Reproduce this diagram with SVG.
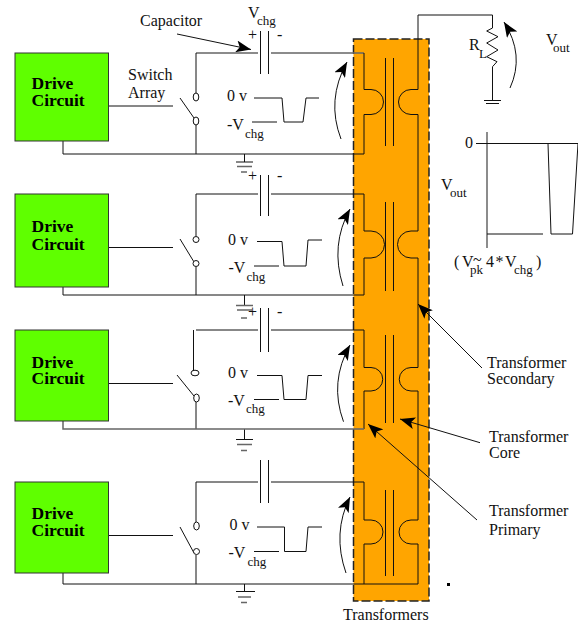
<svg xmlns="http://www.w3.org/2000/svg" width="578" height="623" viewBox="0 0 578 623">
<style>
text{font-family:"Liberation Serif","Times New Roman",serif;font-size:16px;fill:#111}
text.b{font-weight:bold;font-size:17.5px;fill:#000}
text.s,tspan.s{font-size:13px}
.l{fill:none;stroke:#111;stroke-width:1}
.g{fill:none;stroke:#666;stroke-width:1.5}
.box{fill:#5fff00;stroke:#333;stroke-width:1}
.c{fill:#fff;stroke:#111;stroke-width:1}
.a{fill:none;stroke:#111;stroke-width:1}
</style>
<defs>
<marker id="ah" markerUnits="userSpaceOnUse" markerWidth="16" markerHeight="12" refX="15" refY="6" orient="auto">
<path d="M0 0L15 6L0 12L3.500 6Z" fill="#000"/>
</marker>
</defs>
<g id="transformers-box">
<rect x="353.500" y="39" width="75.500" height="562" fill="#ffa500"/>
<rect x="353.500" y="39" width="75.500" height="562" fill="none" stroke="#222" stroke-width="1.500" stroke-dasharray="9 3"/>
</g>
<g id="connectors">
<!-- row 1 -->
<path class="g" d="M196 53H258M271 53H364"/>
<path class="l" d="M196 53V93M196 125V154M63 141V154H364V114.500H371A12.500 12.500 0 0 0 371 89.500H364V53M108.500 106H173M180 98L194 118M254 98H282L284 122H303L306 98H319M252 122H277M260.500 31V74M268.500 31V74M385.500 58V146M393.500 58V146M244.500 154V162"/>
<path class="l" d="M236 162H253"/><path class="g" d="M237 166.500H252M241 172H247"/>
<!-- row 2 -->
<path class="l" d="M196 194H258M271 194H364M196 194V236M196 267V295M63 287V295H364V258H371A13.500 13.500 0 0 0 371 231H364V194M108.500 247.500H173M180 239L194 262M257 241.500H282L284 266H306L308 240H322M254 266H279M260.500 175V216M268.500 175V216M385.500 202V291M393.500 202V291M244.500 295V305"/>
<path class="g" d="M236 305.500H253M237 310H252M241 318H247"/>
<!-- row 3 -->
<path class="l" d="M196 330H258M271 330H364M193.500 330V370M196 402V429M108.500 383.500H173M177 375L194 396M257 375.500H282L284 399.500H306L308 375.500H322M254 399.500H279M260.500 308V352M268.500 308V352M385.500 335V423M393.500 335V423M244.500 429V439M364 330V367.500H371A11.750 11.750 0 0 1 371 391H364V429"/>
<path class="g" d="M63 421V429H364"/>
<path class="l" d="M236 439.500H253"/><path class="g" d="M237 444.500H252M241 450.500H247"/>
<!-- row 4 -->
<path class="l" d="M196 482H258M271 482H364M196 482V522M196 555V584M63 573V584H418M364 482V520H371A12 12 0 0 1 371 544H364V584M108.500 535.500H173M180 527L194 553M257 527H284.500V551.500H306L308 527H322M254 551.500H279M260.500 460V503M268.500 460V503M385.500 490V576M393.500 490V576M244.500 584V591.500"/>
<path class="l" d="M236 591.500H255"/><path class="g" d="M238 597H251M241 602.500H247"/>
<!-- secondary -->
<path class="l" d="M418 89.500V15H492.500V28L486.700 31L498 36.700L486.700 43L498 50L486.700 56.700L497 61.700L492.500 66.700V100.500M484 100.500H501M486 103.500H499"/>
<path class="l" d="M418 89.500H411A12.500 12.500 0 0 0 411 114.500H418V231H411A13.500 13.500 0 0 0 411 258H418V367.500H411A11.750 11.750 0 0 0 411 391H418V520H411A12 12 0 0 0 411 544H418V584"/>
<!-- curved arrows -->
<path class="a" marker-end="url(#ah)" d="M341 139Q326 100 347 62"/>
<path class="a" marker-end="url(#ah)" d="M343 286Q330 245 350 209"/>
<path class="a" marker-end="url(#ah)" d="M343.500 421.700Q329 382 350 345"/>
<path class="a" marker-end="url(#ah)" d="M346 573Q332 533 350 497"/>
<path class="a" marker-end="url(#ah)" d="M510 88Q525 55 504 22"/>
<!-- label leaders -->
<path class="a" marker-end="url(#ah)" d="M177 34L251 49.500"/>
<path class="a" marker-end="url(#ah)" d="M482 368L418 304"/>
<path class="a" marker-end="url(#ah)" d="M480 442.700L400 419"/>
<path class="a" marker-end="url(#ah)" d="M477 520L368 424"/>
<!-- graph -->
<path class="g" d="M487 132V248"/>
<path class="l" d="M476 143.500H578M548 143.500L551 234H572.500L578 143.500M487 234H543"/>
</g>
<g id="drive-1"><rect class="box" x="15" y="53" width="93.500" height="88"/><text class="b"><tspan x="31.500" y="89">Drive</tspan><tspan x="31.500" y="105.500">Circuit</tspan></text></g>
<g id="drive-2"><rect class="box" x="15" y="194" width="93.500" height="93"/><text class="b"><tspan x="31.500" y="232">Drive</tspan><tspan x="31.500" y="250">Circuit</tspan></text></g>
<g id="drive-3"><rect class="box" x="15" y="330" width="93.500" height="91"/><text class="b"><tspan x="31.500" y="368">Drive</tspan><tspan x="31.500" y="384">Circuit</tspan></text></g>
<g id="drive-4"><rect class="box" x="15" y="482" width="93.500" height="91"/><text class="b"><tspan x="31.500" y="519">Drive</tspan><tspan x="31.500" y="536">Circuit</tspan></text></g>
<g id="switch-1"><ellipse class="c" cx="196" cy="97" rx="2.800" ry="4"/><ellipse class="c" cx="196" cy="121" rx="2.800" ry="4"/></g>
<g id="switch-2"><ellipse class="c" cx="196" cy="239.500" rx="3" ry="3"/><ellipse class="c" cx="196" cy="263.500" rx="3" ry="3"/></g>
<g id="switch-3"><ellipse class="c" cx="195" cy="373" rx="4" ry="2.800"/><ellipse class="c" cx="196.500" cy="398" rx="2.800" ry="4"/></g>
<g id="switch-4"><ellipse class="c" cx="196.500" cy="526" rx="2.800" ry="4"/><ellipse class="c" cx="196.500" cy="551.500" rx="3" ry="3"/></g>
<g id="labels">
<text x="140" y="26">Capacitor</text>
<text x="248" y="18">V</text><text class="s" x="257" y="25">chg</text>
<text><tspan x="128" y="80">Switch</tspan><tspan x="128" y="98">Array</tspan></text>
<text x="248" y="40">+</text><text x="277" y="40">-</text>
<text x="248" y="181">+</text><text x="277" y="181">-</text>
<text x="248" y="317">+</text><text x="277" y="317">-</text>
<text x="227" y="101">0 v</text><text><tspan x="227" y="130">-V</tspan><tspan class="s" x="245" y="138">chg</tspan></text>
<text x="228" y="245">0 v</text><text><tspan x="228.500" y="273">-V</tspan><tspan class="s" x="246.500" y="281">chg</tspan></text>
<text x="228" y="378">0 v</text><text><tspan x="228" y="406">-V</tspan><tspan class="s" x="246" y="413">chg</tspan></text>
<text x="229.500" y="530">0 v</text><text><tspan x="228.500" y="558">-V</tspan><tspan class="s" x="247.500" y="566">chg</tspan></text>
<text><tspan x="469" y="50">R</tspan><tspan class="s" x="479" y="58">L</tspan></text>
<text><tspan x="546" y="45">V</tspan><tspan class="s" x="553" y="52">out</tspan></text>
<text x="465" y="148">0</text>
<text><tspan x="441" y="190">V</tspan><tspan class="s" x="450" y="197">out</tspan></text>
<text><tspan x="454" y="267">(</tspan><tspan x="462" y="267">V</tspan><tspan class="s" x="470" y="274">pk</tspan><tspan x="473" y="265">~</tspan><tspan x="486" y="267">4</tspan><tspan x="495.500" y="267">*</tspan><tspan x="505" y="267">V</tspan><tspan class="s" x="514" y="274">chg</tspan><tspan x="536" y="267">)</tspan></text>
<text><tspan x="487" y="368">Transformer</tspan><tspan x="487" y="384">Secondary</tspan></text>
<text><tspan x="489" y="442">Transformer</tspan><tspan x="489" y="458">Core</tspan></text>
<text><tspan x="489" y="516">Transformer</tspan><tspan x="489" y="535">Primary</tspan></text>
<text x="343" y="620">Transformers</text>
</g>
<rect id="dot" x="447" y="583" width="3" height="3" fill="#000"/>
</svg>
